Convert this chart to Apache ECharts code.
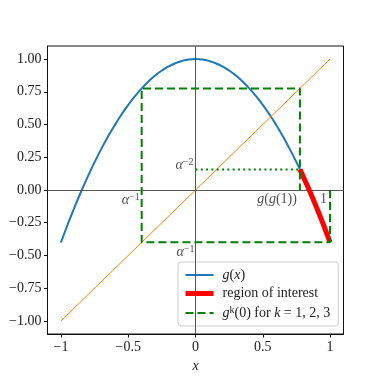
<!DOCTYPE html>
<html><head><meta charset="utf-8">
<script src="https://cdn.jsdelivr.net/npm/echarts@6/dist/echarts.min.js"></script>
<style>html,body{margin:0;padding:0;background:#fff}#c{width:382px;height:382px}</style>
</head><body><div id="c"></div>
<script>
const gX = [-1,-0.95,-0.9,-0.85,-0.8,-0.75,-0.7,-0.65,-0.6,-0.55,-0.5,-0.45,-0.4,-0.35,-0.3,-0.25,-0.2,-0.15,-0.1,-0.05,0,0.05,0.1,0.15,0.2,0.25,0.3,0.35,0.4,0.45,0.5,0.55,0.6,0.65,0.7,0.75,0.8,0.85,0.9,0.95,1];
const gY = [-0.4,-0.2635,-0.134,-0.0115,0.104,0.2125,0.314,0.4085,0.496,0.5765,0.65,0.7165,0.776,0.8285,0.874,0.9125,0.944,0.9685,0.986,0.9965,1,0.9965,0.986,0.9685,0.944,0.9125,0.874,0.8285,0.776,0.7165,0.65,0.5765,0.496,0.4085,0.314,0.2125,0.104,-0.0115,-0.134,-0.2635,-0.4];
// identity line
const idX = [-1, 1];
const idY = [-1, 1];
// region of interest
const roiX = [0.776,0.8,0.85,0.9,0.95,1];
const roiY = [0.157,0.104,-0.0115,-0.134,-0.2635,-0.4];
// orbit g^k(0)
const orbX = [1, 1, -0.4, -0.4, 0.776, 0.776];
const orbY = [0, -0.4, -0.4, 0.776, 0.776, 0];
// dotted level alpha^-2
const dotX = [0, 0.776];
const dotY = [0.157, 0.157];
// annotations
const annX = [-0.4, 0, 0.776, 1, 0];
const annY = [0, 0.157, 0, 0, -0.4];
const annText = ['{i|α}{s|−1}', '{i|α}{s|−2}', '{i|g}{n|(}{i|g}{n|(1))}', '{n|1}', '{i|α}{s|−1}'];
const xTicks = [-1, -0.5, 0, 0.5, 1];
const yTicks = [-1, -0.75, -0.5, -0.25, 0, 0.25, 0.5, 0.75, 1];

const SERIF = '"Liberation Serif", "DejaVu Serif", serif';
const zip = (a, b) => a.map((v, i) => [v, b[i]]);
const fmt = v => (v < 0 ? '\u2212' : '') + Math.abs(v);
const rich = {
  i: {fontFamily: SERIF, fontStyle: 'italic', fontSize: 14, color: '#222'},
  n: {fontFamily: SERIF, fontSize: 14, color: '#222'},
  s: {fontFamily: SERIF, fontSize: 10, color: '#222', verticalAlign: 'top', padding: [0,0,6,0]}
};
const annPos = [
  {align: 'right', verticalAlign: 'top', offset: [-2, 2]},
  {align: 'right', verticalAlign: 'bottom', offset: [-2, 4]},
  {align: 'right', verticalAlign: 'top', offset: [-3, 2]},
  {align: 'right', verticalAlign: 'top', offset: [-3, 2]},
  {align: 'right', verticalAlign: 'top', offset: [-1, 2]}
];

const chart = echarts.init(document.getElementById('c'), null, {renderer: 'canvas'});
chart.setOption({
  animation: false,
  backgroundColor: '#fff',
  grid: {left: 47.5, right: 38.5, top: 46, bottom: 48, show: true, borderColor: '#111', borderWidth: 1, backgroundColor: '#fff'},
  xAxis: {
    type: 'value', min: -1.1, max: 1.1,
    name: 'x', nameLocation: 'middle', nameGap: 22,
    nameTextStyle: {fontFamily: SERIF, fontStyle: 'italic', fontSize: 14, color: '#222'},
    axisLine: {show: true, onZero: false, lineStyle: {color: '#111', width: 1}},
    axisTick: {show: true, length: 3.5, lineStyle: {color: '#111'}, customValues: xTicks},
    axisLabel: {customValues: xTicks, formatter: v => fmt(Number(v).toFixed(1)), fontFamily: SERIF, fontSize: 14, color: '#222', margin: 6},
    splitLine: {show: false}
  },
  yAxis: {
    type: 'value', min: -1.1, max: 1.1,
    axisLine: {show: true, onZero: false, lineStyle: {color: '#111', width: 1}},
    axisTick: {show: true, length: 3.5, lineStyle: {color: '#111'}, customValues: yTicks},
    axisLabel: {customValues: yTicks, formatter: v => (v < 0 ? '\u2212' : '') + Math.abs(v).toFixed(2), fontFamily: SERIF, fontSize: 14, color: '#222', margin: 6},
    splitLine: {show: false}
  },
  legend: {
    orient: 'vertical', left: 178, top: 262,
    data: [
      {name: 'g(x)', lineStyle: {width: 2}},
      {name: 'region of interest', lineStyle: {width: 5}},
      {name: 'gk', lineStyle: {width: 2}}
    ],
    itemWidth: 28, itemHeight: 14, itemGap: 4.5,
    padding: [6, 8, 6, 5],
    itemStyle: {opacity: 0},
    backgroundColor: 'rgba(255,255,255,0.8)', borderColor: '#ccc', borderWidth: 1, borderRadius: 3,
    formatter: n => n === 'g(x)' ? '{i|g}{n|(}{i|x}{n|)}' : n === 'gk' ? '{i|g}{s|k}{n|(0) for }{i|k}{n| = 1, 2, 3}' : '{n|region of interest}',
    textStyle: {rich: rich, padding: [0, 0, 0, 4]}
  },
  series: [
    {name: 'g(x)', type: 'line', data: zip(gX, gY), smooth: true, symbol: 'none', z: 3,
     lineStyle: {color: '#1f77b4', width: 2}, itemStyle: {color: '#1f77b4'},
     markLine: {silent: true, symbol: 'none', label: {show: false},
       lineStyle: {color: '#555', width: 1, type: 'solid'},
       data: [{xAxis: 0}, {yAxis: 0}]}},
    {name: 'id', type: 'line', data: zip(idX, idY), symbol: 'none', z: 4,
     lineStyle: {color: '#ff7f0e', width: 1}},
    {name: 'region of interest', type: 'line', data: zip(roiX, roiY), smooth: true, symbol: 'none', z: 5,
     lineStyle: {color: '#ff0000', width: 5}, itemStyle: {color: '#ff0000'}},
    {name: 'gk', type: 'line', data: zip(orbX, orbY), symbol: 'none', z: 6,
     lineStyle: {color: '#008000', width: 2, type: [8, 4]}, itemStyle: {color: '#008000'}},
    {name: 'dot', type: 'line', data: zip(dotX, dotY), symbol: 'none', z: 6,
     lineStyle: {color: '#008000', width: 2, type: [2, 3.3]}},
    {name: 'ann', type: 'scatter', symbolSize: 0, z: 7,
     data: annX.map((x, i) => ({value: [x, annY[i]], label: Object.assign({show: true, position: [0, 0], formatter: annText[i], rich: rich}, annPos[i])}))}
  ]
});
</script></body></html>
